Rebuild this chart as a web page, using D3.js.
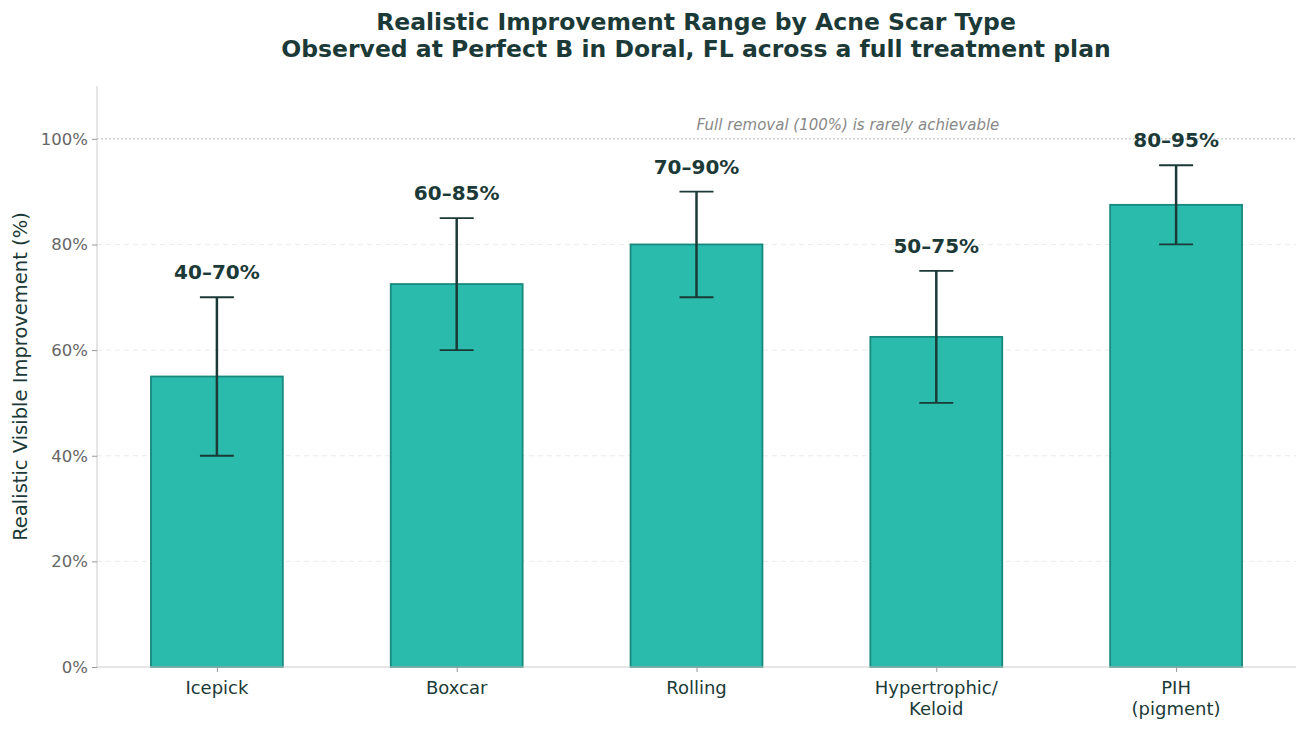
<!DOCTYPE html>
<html><head><meta charset="utf-8">
<script src="https://cdn.jsdelivr.net/npm/d3@7"></script>
<style>body{margin:0;background:#fff}svg{display:block;font-family:"DejaVu Sans",sans-serif}</style>
</head><body><svg id="c" width="1308" height="729"></svg>
<script>
const categories = ["Icepick","Boxcar","Rolling","Hypertrophic/\nKeloid","PIH\n(pigment)"];
const lowValues = [40,60,70,50,80];
const highValues = [70,85,90,75,95];
const midValues = [55,72.5,80,62.5,87.5];
const rangeLabels = ["40–70%","60–85%","70–90%","50–75%","80–95%"];
const yTicks = [0,20,40,60,80,100];

const svg = d3.select("#c");
const L=97,R=1296,T=86,B=667;
const x = d3.scaleLinear().domain([-0.5,4.5]).range([L,R]);
const y = d3.scaleLinear().domain([0,110]).range([B,T]);
const dark="#1b3a37";

// grid
svg.append("g").selectAll("line").data(yTicks.filter(d=>d>0&&d<100)).join("line")
  .attr("x1",L).attr("x2",R).attr("y1",d=>y(d)).attr("y2",d=>y(d))
  .attr("stroke","#e6e6e6").attr("stroke-dasharray","5,4").attr("stroke-width",0.8);
// 100% reference line
svg.append("line").attr("x1",L).attr("x2",R).attr("y1",y(100)).attr("y2",y(100))
  .attr("stroke","#bdbdbd").attr("stroke-dasharray","2,2").attr("stroke-width",1);

// bars
const bw = 0.55;
svg.append("g").selectAll("rect").data(midValues).join("rect")
  .attr("x",(d,i)=>x(i-bw/2)).attr("width",x(bw)-x(0))
  .attr("y",d=>y(d)).attr("height",d=>y(0)-y(d))
  .attr("fill","#2bbbad").attr("stroke","#17897d").attr("stroke-width",1.8);

// error bars
const eb = svg.append("g").attr("stroke",dark).attr("stroke-width",2.5);
categories.forEach((c,i)=>{
  eb.append("line").attr("x1",x(i)).attr("x2",x(i)).attr("y1",y(lowValues[i])).attr("y2",y(highValues[i]));
  [lowValues[i],highValues[i]].forEach(v=>{
    eb.append("line").attr("x1",x(i)-17).attr("x2",x(i)+17).attr("y1",y(v)).attr("y2",y(v)).attr("stroke-width",1.8);
  });
});

// range labels
svg.append("g").selectAll("text").data(rangeLabels).join("text")
  .attr("x",(d,i)=>x(i)).attr("y",(d,i)=>y(highValues[i]+3)-2)
  .attr("text-anchor","middle").attr("font-weight","bold").attr("font-size",20)
  .attr("fill",dark).text(d=>d);

// annotation
svg.append("text").attr("x",x(2)).attr("y",y(101.6))
  .attr("font-size",15).attr("font-style","italic").attr("fill","#888")
  .text("Full removal (100%) is rarely achievable");

// axes
const ya = svg.append("g").attr("transform",`translate(${L},0)`)
  .call(d3.axisLeft(y).tickValues(yTicks).tickFormat(d=>d+"%").tickSize(5).tickPadding(4));
ya.select(".domain").attr("stroke","#cccccc").attr("d",`M0,${B}V${T}`);
ya.selectAll(".tick line").attr("stroke","#999");
ya.selectAll(".tick text").attr("font-size",16.5).attr("fill","#666").attr("font-family","DejaVu Sans");

const xa = svg.append("g").attr("transform",`translate(0,${B})`)
  .call(d3.axisBottom(x).tickValues(d3.range(5)).tickFormat("").tickSize(5));
xa.select(".domain").attr("stroke","#cccccc").attr("d",`M${L},0H${R}`);
xa.selectAll(".tick line").attr("stroke","#999");
categories.forEach((c,i)=>{
  const t = svg.append("text").attr("x",x(i)).attr("y",B+27).attr("text-anchor","middle")
    .attr("font-size",18).attr("fill",dark);
  c.split("\n").forEach((s,k)=>t.append("tspan").attr("x",x(i)).attr("dy",k?21:0).text(s));
});

// y label
svg.append("text").attr("transform",`translate(27,${(T+B)/2}) rotate(-90)`)
  .attr("text-anchor","middle").attr("font-size",19.5).attr("fill",dark)
  .text("Realistic Visible Improvement (%)");

// title
const tt = svg.append("text").attr("x",(L+R)/2).attr("text-anchor","middle")
  .attr("font-size",23.5).attr("font-weight","bold").attr("fill",dark);
tt.append("tspan").attr("x",696).attr("y",30).text("Realistic Improvement Range by Acne Scar Type");
tt.append("tspan").attr("x",696).attr("y",57).text("Observed at Perfect B in Doral, FL across a full treatment plan");
</script></body></html>
